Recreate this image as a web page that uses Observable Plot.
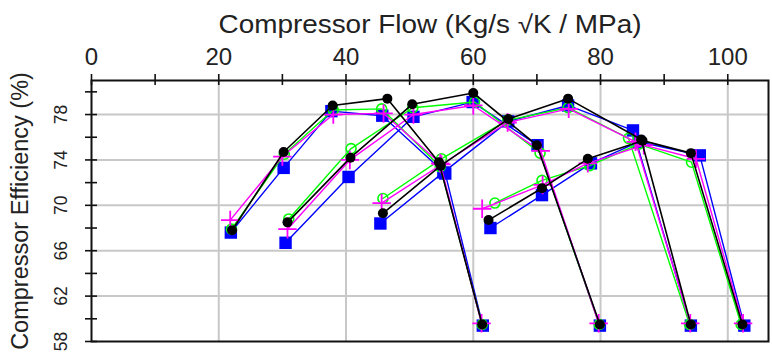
<!DOCTYPE html>
<html>
<head>
<meta charset="utf-8">
<script src="https://cdn.jsdelivr.net/npm/d3@7"></script>
<script src="https://cdn.jsdelivr.net/npm/@observablehq/plot@0.6"></script>
<style>
  html, body { margin: 0; padding: 0; background: #fff; }
  #chart svg { display: block; }
</style>
</head>
<body>
<div id="chart"></div>
<script>
// ---- Data ----
const titleX = "Compressor Flow (Kg/s \u221AK / MPa)";
const titleY = "Compressor Efficiency (%)";
const xTickLabels = [0, 20, 40, 60, 80, 100];
const xMinorTicks = [0, 10, 20, 30, 40, 50, 60, 70, 80, 90, 100];
const yTickLabels = [58, 62, 66, 70, 74, 78];
const yMinorTicks = [58, 60, 62, 64, 66, 68, 70, 72, 74, 76, 78, 80];
const xGrid = [20, 40, 60, 80, 100];
const yGrid = [62, 66, 70, 74, 78];

const speedLines = ["A", "B", "C", "D"];

const blueFlow = [
  [21.9, 30.2, 37.7, 45.7, 55.6, 61.5],
  [30.5, 40.4, 50.6, 59.9, 70.1, 79.9],
  [45.4, 55.3, 65.5, 74.9, 85.1, 94.2],
  [62.7, 70.8, 78.5, 86.0, 95.6, 102.6]
];
const blueEff = [
  [67.6, 73.3, 78.3, 77.9, 72.8, 59.4],
  [66.7, 72.5, 77.8, 79.1, 75.3, 59.4],
  [68.4, 72.9, 77.4, 78.8, 76.6, 59.4],
  [68.0, 70.9, 73.7, 75.6, 74.4, 59.4]
];
const greenFlow = [
  [22.0, 30.3, 38.0, 45.6, 54.8, 61.4],
  [31.0, 40.8, 50.5, 60.2, 70.5, 79.8],
  [45.8, 55.0, 65.4, 74.9, 84.4, 94.0],
  [63.4, 70.8, 78.3, 86.0, 94.3, 102.1]
];
const greenEff = [
  [67.9, 74.5, 78.4, 78.5, 73.4, 59.5],
  [68.8, 75.0, 78.6, 79.1, 74.6, 59.5],
  [70.6, 74.1, 77.5, 78.6, 75.9, 59.5],
  [70.2, 72.2, 73.5, 75.4, 73.8, 59.5]
];
const magentaFlow = [
  [21.8, 30.0, 38.0, 45.9, 54.8, 61.3],
  [30.8, 40.6, 50.6, 60.0, 70.6, 79.7],
  [45.6, 55.0, 65.4, 75.0, 85.5, 94.1],
  [61.4, 70.9, 78.0, 86.8, 95.0, 102.4]
];
const magentaEff = [
  [68.7, 74.3, 78.0, 78.1, 73.7, 59.6],
  [67.9, 74.0, 78.0, 78.8, 74.8, 59.6],
  [70.2, 73.6, 77.3, 78.5, 75.6, 59.6],
  [69.7, 71.8, 73.7, 75.3, 74.1, 59.6]
];
const blackFlow = [
  [22.1, 30.2, 37.9, 46.5, 54.6, 61.4],
  [30.8, 40.7, 50.4, 60.0, 70.0, 79.9],
  [45.8, 54.9, 65.5, 74.9, 86.4, 94.2],
  [62.4, 70.8, 78.0, 86.6, 94.2, 102.3]
];
const blackEff = [
  [67.8, 74.7, 78.8, 79.4, 73.8, 59.5],
  [68.5, 74.2, 78.9, 79.9, 75.3, 59.5],
  [69.3, 73.5, 77.6, 79.4, 75.8, 59.5],
  [68.7, 71.5, 74.1, 75.7, 74.6, 59.5]
];

// ---- Build tidy tables ----
function rows(name, flows, effs) {
  const out = [];
  flows.forEach((fl, i) => fl.forEach((f, j) => out.push({series: name, line: speedLines[i], flow: f, eff: effs[i][j]})));
  return out;
}
const blue = rows("blue", blueFlow, blueEff);
const green = rows("green", greenFlow, greenEff);
const magenta = rows("magenta", magentaFlow, magentaEff);
const black = rows("black", blackFlow, blackEff);

const FONT = "'Liberation Sans', Arial, Helvetica, sans-serif";
const W = 772, H = 358, ML = 91, MR = 4, MT = 80, MB = 17;
const frameW = W - ML - MR, frameH = H - MT - MB;

const chart = Plot.plot({
  width: W,
  height: H,
  marginLeft: ML,
  marginRight: MR,
  marginTop: MT,
  marginBottom: MB,
  style: {fontFamily: FONT, background: "#fff", color: "#1a1a1a"},
  x: {domain: [0, 106.4], axis: null},
  y: {domain: [58, 81], axis: null},
  marks: [
    Plot.gridX(xGrid, {stroke: "#c8c8c8", strokeOpacity: 1, strokeWidth: 2}),
    Plot.gridY(yGrid, {stroke: "#c8c8c8", strokeOpacity: 1, strokeWidth: 2}),
    // top axis ticks crossing the frame
    Plot.tickX(xMinorTicks, {x: d => d, insetTop: -6, insetBottom: frameH - 5, stroke: "#111", strokeWidth: 1.6}),
    Plot.text(xTickLabels, {x: d => d, text: d => String(d), frameAnchor: "top", lineAnchor: "middle", dy: -23, fontSize: 24, fill: "#222"}),
    // left axis ticks crossing the frame
    Plot.tickY(yMinorTicks, {y: d => d, insetLeft: -6, insetRight: frameW - 6, stroke: "#111", strokeWidth: 1.6}),
    Plot.text(yTickLabels, {y: d => d, text: d => String(d), frameAnchor: "left", textAnchor: "middle", lineAnchor: "middle", rotate: -90, dx: -30.5, fontSize: 17.5, fill: "#222"}),
    Plot.frame({stroke: "#111", strokeWidth: 2}),
    // axis titles
    Plot.text([titleX], {text: d => d, frameAnchor: "top", textAnchor: "middle", lineAnchor: "middle", dy: -56, fontSize: 25, fill: "#222", className: "xtitle"}),
    Plot.text([titleY], {text: d => d, frameAnchor: "left", textAnchor: "middle", lineAnchor: "middle", rotate: -90, dx: -71, fontSize: 23.5, fill: "#222"}),
    // series
    Plot.line(blue, {x: "flow", y: "eff", z: "line", stroke: "#0000ff", strokeWidth: 1.4}),
    Plot.dot(blue, {x: "flow", y: "eff", symbol: "square", r: 7, fill: "#0000ff"}),
    Plot.line(green, {x: "flow", y: "eff", z: "line", stroke: "#00ff00", strokeWidth: 1.4}),
    Plot.dot(green, {x: "flow", y: "eff", symbol: "circle", r: 5, stroke: "#00ff00", strokeWidth: 1.6, fill: "none"}),
    Plot.line(magenta, {x: "flow", y: "eff", z: "line", stroke: "#ff00ff", strokeWidth: 1.4}),
    Plot.dot(magenta, {x: "flow", y: "eff", symbol: "plus", r: 6, stroke: "#ff00ff", strokeWidth: 1.8}),
    Plot.line(black, {x: "flow", y: "eff", z: "line", stroke: "#000", strokeWidth: 1.6}),
    Plot.dot(black, {x: "flow", y: "eff", symbol: "circle", r: 5, fill: "#000"})
  ]
});
// stretch the top title to the reference's width
d3.select(chart).selectAll("g.xtitle text").attr("textLength", 423).attr("lengthAdjust", "spacingAndGlyphs");
document.getElementById("chart").appendChild(chart);
</script>
</body>
</html>
